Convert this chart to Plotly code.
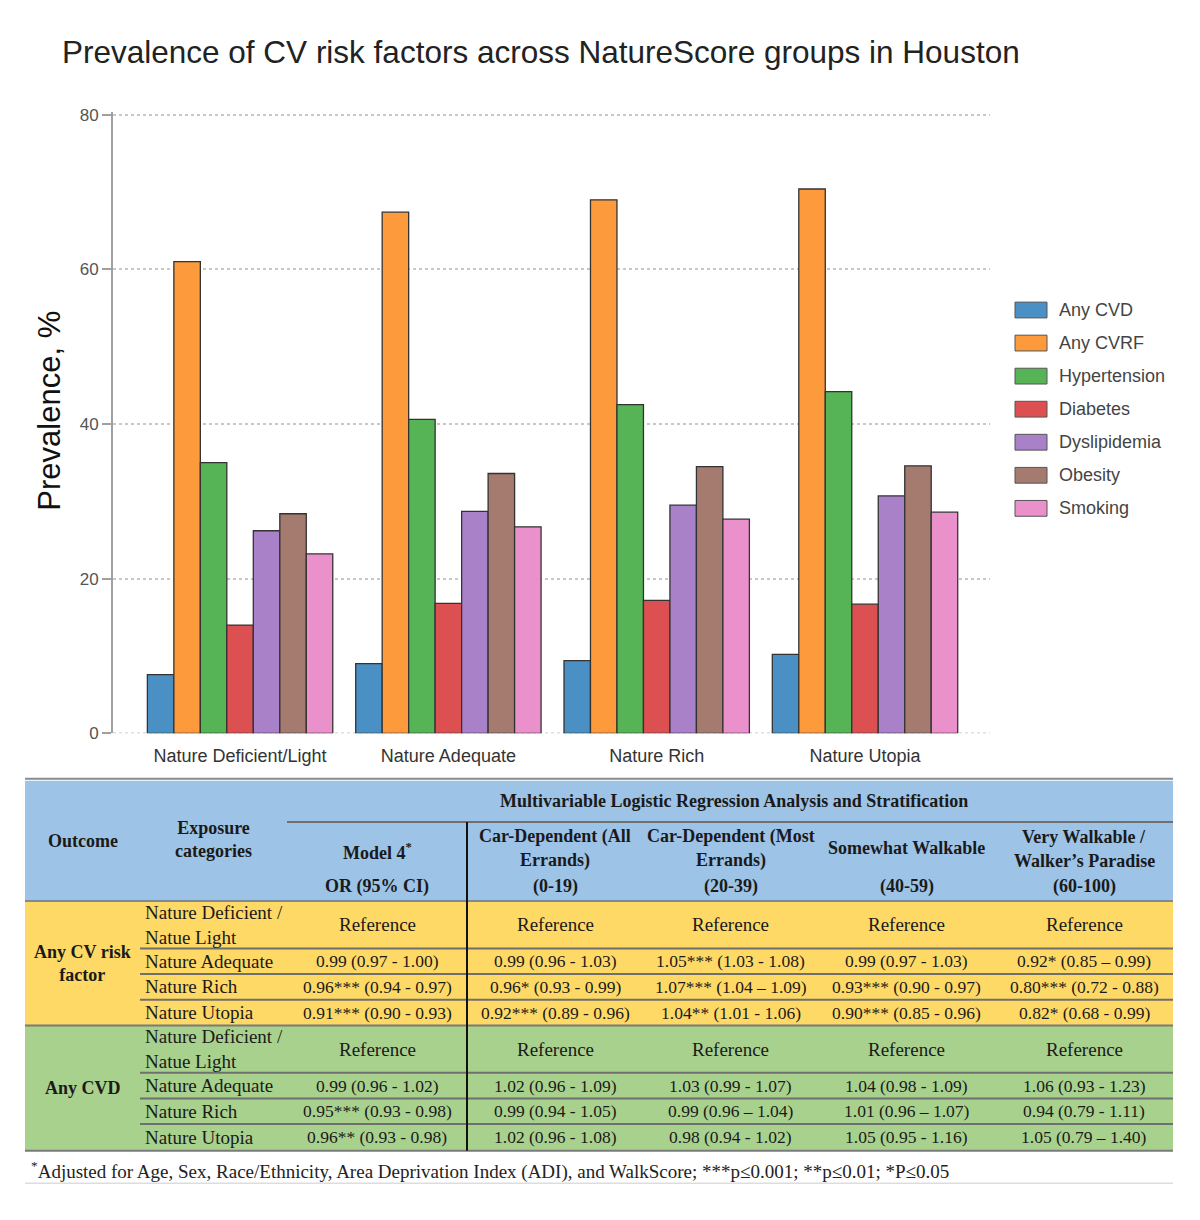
import plotly.graph_objects as go

# ---- chart data ----
groups = ["Nature Deficient/Light", "Nature Adequate", "Nature Rich", "Nature Utopia"]
series = ["Any CVD", "Any CVRF", "Hypertension", "Diabetes", "Dyslipidemia", "Obesity", "Smoking"]
any_cvd = [7.6, 9.0, 9.4, 10.2]
any_cvrf = [61.0, 67.4, 69.0, 70.4]
hypertension = [35.0, 40.6, 42.5, 44.2]
diabetes = [14.0, 16.8, 17.2, 16.7]
dyslipidemia = [26.2, 28.7, 29.5, 30.7]
obesity = [28.4, 33.6, 34.5, 34.6]
smoking = [23.2, 26.7, 27.7, 28.6]
colors = ["#4a90c4", "#fd9a3c", "#56b356", "#dc5052", "#a881c9", "#a57a6f", "#ea91cc"]
y_ticks = [0, 20, 40, 60, 80]

# ---- table data ----
outcomes = ["Any CV risk<br>factor", "Any CVD"]
exposures = ["Nature Deficient /<br>Natue Light", "Nature Adequate", "Nature Rich", "Nature Utopia"]
col_heads = [
    ["Car-Dependent (All", "Errands)", "(0-19)"],
    ["Car-Dependent (Most", "Errands)", "(20-39)"],
    ["Somewhat Walkable", "", "(40-59)"],
    ["Very Walkable /", "Walker\u2019s Paradise", "(60-100)"],
]
cvrf_rows = [
    ["Reference"] * 5,
    ["0.99 (0.97 - 1.00)", "0.99 (0.96 - 1.03)", "1.05*** (1.03 - 1.08)", "0.99 (0.97 - 1.03)", "0.92* (0.85 \u2013 0.99)"],
    ["0.96*** (0.94 - 0.97)", "0.96* (0.93 - 0.99)", "1.07*** (1.04 \u2013 1.09)", "0.93*** (0.90 - 0.97)", "0.80*** (0.72 - 0.88)"],
    ["0.91*** (0.90 - 0.93)", "0.92*** (0.89 - 0.96)", "1.04** (1.01 - 1.06)", "0.90*** (0.85 - 0.96)", "0.82* (0.68 - 0.99)"],
]
cvd_rows = [
    ["Reference"] * 5,
    ["0.99 (0.96 - 1.02)", "1.02 (0.96 - 1.09)", "1.03 (0.99 - 1.07)", "1.04 (0.98 - 1.09)", "1.06 (0.93 - 1.23)"],
    ["0.95*** (0.93 - 0.98)", "0.99 (0.94 - 1.05)", "0.99 (0.96 \u2013 1.04)", "1.01 (0.96 \u2013 1.07)", "0.94 (0.79 - 1.11)"],
    ["0.96** (0.93 - 0.98)", "1.02 (0.96 - 1.08)", "0.98 (0.94 - 1.02)", "1.05 (0.95 - 1.16)", "1.05 (0.79 \u2013 1.40)"],
]
footnote = ("<sup>*</sup>Adjusted for Age, Sex, Race/Ethnicity, Area Deprivation Index (ADI), "
            "and WalkScore; ***p\u22640.001; **p\u22640.01; *P\u22640.05")

# page body has an 8px margin on every side; size the figure so the page is 1200x1220
OFF = 8
W, H = 1200 - 2 * OFF, 1220 - 2 * OFF


def px(x):
    return (x - OFF) / W


def py(y):
    return 1 - (y - OFF) / H


values = [any_cvd, any_cvrf, hypertension, diabetes, dyslipidemia, obesity, smoking]

fig = go.Figure()
for name, vals, col in zip(series, values, colors):
    fig.add_trace(go.Bar(
        x=groups, y=vals, name=name,
        marker=dict(color=col, line=dict(color="#333333", width=1.3)),
        showlegend=False,
    ))

shapes = []
annots = []

# manual legend (wide swatches like the reference)
for i, (name, col) in enumerate(zip(series, colors)):
    yc = 308 + i * 33.5
    shapes.append(dict(type="rect", xref="paper", yref="paper",
                       x0=px(1015), x1=px(1047), y0=py(yc - 8), y1=py(yc + 8),
                       fillcolor=col, line=dict(color="#555", width=1)))
    annots.append(dict(xref="paper", yref="paper", x=px(1057), y=py(yc), text=name,
                       showarrow=False, xanchor="left", yanchor="middle",
                       font=dict(family="Liberation Sans", size=18, color="#444")))

# y axis title
annots.append(dict(xref="paper", yref="paper", x=px(50), y=py(410), text="Prevalence, %",
                   textangle=-90, showarrow=False, xanchor="center", yanchor="middle",
                   font=dict(family="Liberation Sans", size=31, color="#111")))

# dotted baseline at 0
shapes.append(dict(type="line", xref="paper", yref="y", x0=px(113), x1=px(990), y0=0, y1=0,
                   line=dict(color="#c0c0c0", width=1.5, dash="dot"), layer="below"))

# ---- table ----
serif = "Liberation Serif"
col_edges = [25, 140, 287, 467, 643, 818, 995, 1173]
head_top, band_bot, head_bot = 785, 827, 907
sections = [
    (outcomes[0], cvrf_rows, "#ffd966", [907, 955, 981, 1007, 1033]),
    (outcomes[1], cvd_rows, "#a9d18e", [1033, 1081, 1107, 1133, 1160]),
]
grid = "#6f6f6f"
HEAD_SZ, TXT_SZ, NUM_SZ = 18, 19, 17.5


def rect(x0, y0, x1, y1, fill):
    shapes.append(dict(type="rect", xref="paper", yref="paper", layer="below",
                       x0=px(x0), x1=px(x1), y0=py(y1), y1=py(y0),
                       fillcolor=fill, line=dict(width=0)))


def line(x0, y0, x1, y1, color=grid, width=2):
    shapes.append(dict(type="line", xref="paper", yref="paper",
                       x0=px(x0), x1=px(x1), y0=py(y0), y1=py(y1),
                       line=dict(color=color, width=width)))


def text(x, y, s, size=16, bold=False, anchor="center", color="#1a1a1a"):
    if bold:
        s = "<b>" + s + "</b>"
    annots.append(dict(xref="paper", yref="paper", x=px(x), y=py(y), text=s,
                       showarrow=False, xanchor=anchor, yanchor="middle", align=anchor,
                       font=dict(family=serif, size=size, color=color)))


left, right = col_edges[0], col_edges[-1]
rect(left, head_top, right, head_bot, "#9dc3e6")
line(left, 783, right, 783, "#8a8a8a", 2)
line(col_edges[2], band_bot, right, band_bot, grid, 2)
line(left, head_bot, right, head_bot, "#7a8a9a", 2)

text((col_edges[2] + right) / 2 + 4, 806, "Multivariable Logistic Regression Analysis and Stratification", HEAD_SZ, True)
text((col_edges[0] + col_edges[1]) / 2, 846, "Outcome", HEAD_SZ, True)
text((col_edges[1] + col_edges[2]) / 2, 845, "Exposure<br>categories", HEAD_SZ, True)
text((col_edges[2] + col_edges[3]) / 2, 857, "Model 4<sup>*</sup>", HEAD_SZ, True)
text((col_edges[2] + col_edges[3]) / 2, 892, "OR (95% CI)", HEAD_SZ, True)
for j, lines in enumerate(col_heads):
    cx = (col_edges[3 + j] + col_edges[4 + j]) / 2
    if lines[1]:
        text(cx, 842, lines[0], HEAD_SZ, True)
        text(cx, 866, lines[1], HEAD_SZ, True)
    else:
        text(cx, 853, lines[0], HEAD_SZ, True)
    text(cx, 892, lines[2], HEAD_SZ, True)

for outcome, rows, fill, edges in sections:
    rect(left, edges[0], right, edges[-1], fill)
    text((col_edges[0] + col_edges[1]) / 2, (edges[0] + edges[-1]) / 2, outcome, HEAD_SZ, True)
    for r, row in enumerate(rows):
        yc = (edges[r] + edges[r + 1]) / 2
        text(col_edges[1] + 3, yc, exposures[r], TXT_SZ, anchor="left")
        for c, val in enumerate(row):
            cx = (col_edges[2 + c] + col_edges[3 + c]) / 2
            text(cx, yc, val, TXT_SZ if val == "Reference" else NUM_SZ)
        if r > 0:
            line(col_edges[1], edges[r], right, edges[r])
    line(left, edges[-1], right, edges[-1], "#7a7a7a", 2)

line(col_edges[3], band_bot, col_edges[3], 1160, "#111", 2)
text(29, 1180, footnote, 19, anchor="left", color="#222")
line(left, 1193, right, 1193, "#dddddd", 1.5)

fig.update_layout(
    width=W, height=H,
    margin=dict(l=0, r=0, t=0, b=0),
    paper_bgcolor="white", plot_bgcolor="white",
    barmode="group", bargap=0.11, bargroupgap=0,
    title=dict(text="Prevalence of CV risk factors across NatureScore groups in Houston",
               x=px(62), xanchor="left", y=py(52), yanchor="middle",
               font=dict(family="Liberation Sans", size=31.5, color="#222")),
    xaxis=dict(domain=[px(113), px(990)], range=[-0.61, 3.6], showline=False,
               showgrid=False, ticks="", ticklabelstandoff=10,
               tickfont=dict(family="Liberation Sans", size=18, color="#333")),
    yaxis=dict(domain=[py(737), py(107)], range=[0, 80.4], tickvals=y_ticks,
               showline=True, linecolor="#a0a0a0", linewidth=2,
               ticks="outside", ticklen=9, tickcolor="#a0a0a0", tickwidth=2,
               showgrid=True, gridcolor="#c8c8c8", griddash="dot", gridwidth=1.5,
               zeroline=False,
               tickfont=dict(family="Liberation Sans", size=17, color="#555")),
    shapes=shapes,
    annotations=annots,
)

fig.write_html("out.html")
